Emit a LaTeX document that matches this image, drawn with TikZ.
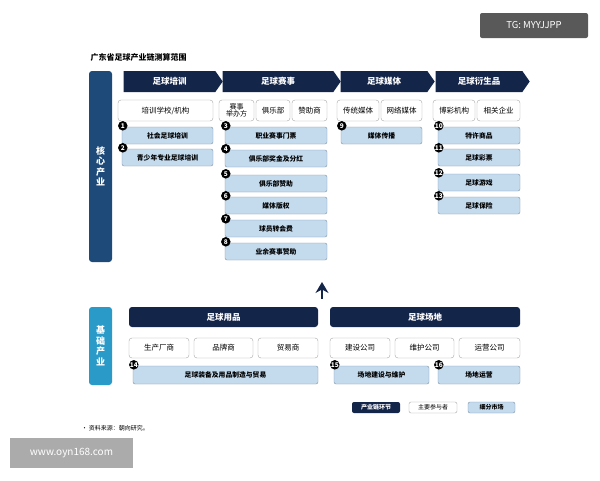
\documentclass[tikz,border=0pt]{standalone}
\usepackage{fontspec}
\setmainfont{Noto Sans CJK SC}
\usetikzlibrary{shapes.symbols,arrows.meta}
\definecolor{navy}{HTML}{14254A}
\definecolor{corebar}{HTML}{1D4A78}
\definecolor{basebar}{HTML}{2A9BC8}
\definecolor{segfill}{HTML}{C4DBEE}
\definecolor{segline}{HTML}{7F93A8}
\tikzset{
  chain/.style={shape=signal, signal to=east, signal pointer angle=110, fill=navy, text=white, inner sep=0pt, font=\fontsize{8.5}{9}\selectfont\bfseries},
  hdr/.style={rounded corners=3pt, fill=navy, text=white, inner sep=0pt, font=\fontsize{8.5}{9}\selectfont\bfseries},
  who/.style={draw=gray!70, rounded corners=3pt, fill=white, inner sep=0pt, align=center, font=\fontsize{7.5}{8}\selectfont},
  seg/.style={draw=segline, rounded corners=2pt, fill=segfill, inner sep=0pt, font=\fontsize{6.8}{7}\selectfont\bfseries},
  num/.style={circle, fill=black, text=white, inner sep=0pt, minimum size=9.5pt, font=\fontsize{6.5}{6.5}\selectfont\bfseries},
  bar/.style={rounded corners=3pt, text=white, inner sep=0pt, align=center, font=\fontsize{9}{10.5}\selectfont\bfseries}
}
% box from x1,y1 to x2,y2 in pixels
\newcommand\pbox[7]{\node[#1, minimum width={#4-#2}, minimum height={#5-#3}] (#6) at ({(#2+#4)/2},{(#3+#5)/2}) {#7};}
\begin{document}
\begin{tikzpicture}[x=1pt,y=-1pt]
  \useasboundingbox[fill=white] (0,0) rectangle (600,480);
  % Titre
  \node[anchor=west, font=\fontsize{8}{8}\selectfont\bfseries] (title) at (87,57) {广东省足球产业链测算范围};

  % Barres laterales
  \pbox{bar, fill=corebar}{89}{71}{112}{262}{core}{核\\心\\产\\业}
  \pbox{bar, fill=basebar}{89}{307}{112}{385}{base}{基\\础\\产\\业}

  % Chaine
  \pbox{chain}{120}{71}{219}{92}{c1}{足球培训}
  \pbox{chain}{219}{71}{337}{92}{c2}{足球赛事}
  \pbox{chain}{337}{71}{431}{92}{c3}{足球媒体}
  \pbox{chain}{432}{71}{526}{92}{c4}{足球衍生品}

  % Participants
  \pbox{who}{118}{100}{213}{121}{p1}{培训学校/机构}
  \pbox{who, font=\fontsize{7}{7.5}\selectfont}{219}{100}{254}{121}{p2}{赛事\\举办方}
  \pbox{who}{256}{100}{290}{121}{p3}{俱乐部}
  \pbox{who}{292}{100}{327}{121}{p4}{赞助商}
  \pbox{who}{337}{100}{379}{121}{p5}{传统媒体}
  \pbox{who}{381}{100}{422}{121}{p6}{网络媒体}
  \pbox{who}{433}{100}{475}{121}{p7}{博彩机构}
  \pbox{who}{477}{100}{520}{121}{p8}{相关企业}

  % Marches
  \pbox{seg}{122}{127}{213}{144}{s1}{社会足球培训}
  \pbox{seg}{122}{149}{213}{166}{s2}{青少年专业足球培训}
  \pbox{seg}{225}{127}{327}{144}{s3}{职业赛事门票}
  \pbox{seg}{225}{150}{327}{167}{s4}{俱乐部奖金及分红}
  \pbox{seg}{225}{175}{327}{192}{s5}{俱乐部赞助}
  \pbox{seg}{225}{197}{327}{214}{s6}{媒体版权}
  \pbox{seg}{225}{220}{327}{237}{s7}{球员转会费}
  \pbox{seg}{225}{243}{327}{260}{s8}{业余赛事赞助}
  \pbox{seg}{341}{127}{422}{144}{s9}{媒体传播}
  \pbox{seg}{438}{127}{520}{144}{s10}{特许商品}
  \pbox{seg}{438}{149}{520}{166}{s11}{足球彩票}
  \pbox{seg}{438}{174}{520}{191}{s12}{足球游戏}
  \pbox{seg}{438}{197}{520}{214}{s13}{足球保险}

  % Base
  \pbox{hdr}{129}{307}{318}{327}{h1}{足球用品}
  \pbox{hdr}{330}{307}{520}{327}{h2}{足球场地}
  \pbox{who}{129}{338}{189}{358}{b1}{生产厂商}
  \pbox{who}{194}{338}{253}{358}{b2}{品牌商}
  \pbox{who}{258}{338}{318}{358}{b3}{贸易商}
  \pbox{who}{330}{338}{390}{358}{b4}{建设公司}
  \pbox{who}{395}{338}{454}{358}{b5}{维护公司}
  \pbox{who}{459}{338}{520}{358}{b6}{运营公司}
  \pbox{seg}{133}{366}{318}{384}{s14}{足球装备及用品制造与贸易}
  \pbox{seg}{334}{366}{429}{384}{s15}{场地建设与维护}
  \pbox{seg}{438}{366}{520}{384}{s16}{场地运营}

  % Numeros
  \foreach \i in {1,...,16} {
    \node[num] (n\i) at ([xshift=1pt,yshift=1pt]s\i.north west) {\i};
  }

  % Fleche
  \coordinate (up) at (322,299);
  \coordinate (tip) at (322,282);
  \draw[navy, line width=1.2pt, -{Stealth[length=11pt,width=13pt]}] (up) -- (tip);

  % Legende
  \pbox{hdr, rounded corners=2pt, font=\fontsize{6}{6}\selectfont\bfseries}{352}{402}{400}{413}{l1}{产业链环节}
  \pbox{who, rounded corners=2pt, font=\fontsize{6}{6}\selectfont}{409}{402}{457}{413}{l2}{主要参与者}
  \pbox{seg, font=\fontsize{6}{6}\selectfont\bfseries}{468}{402}{515}{413}{l3}{细分市场}
  \node[anchor=west, font=\fontsize{6}{6}\selectfont] (src) at (78,428) {•\ 资料来源：朝向研究。};

  % Marques
  \pbox{rounded corners=2pt, fill=black!65, text=white, inner sep=0pt, font=\fontsize{9.5}{10}\selectfont}{480}{13}{588}{38}{tg}{TG: MYYJJPP}
  \pbox{fill=black!33, text=white, inner sep=0pt, font=\fontsize{10}{11}\selectfont}{10}{438}{133}{468}{www}{www.oyn168.com}
\end{tikzpicture}
\end{document}
